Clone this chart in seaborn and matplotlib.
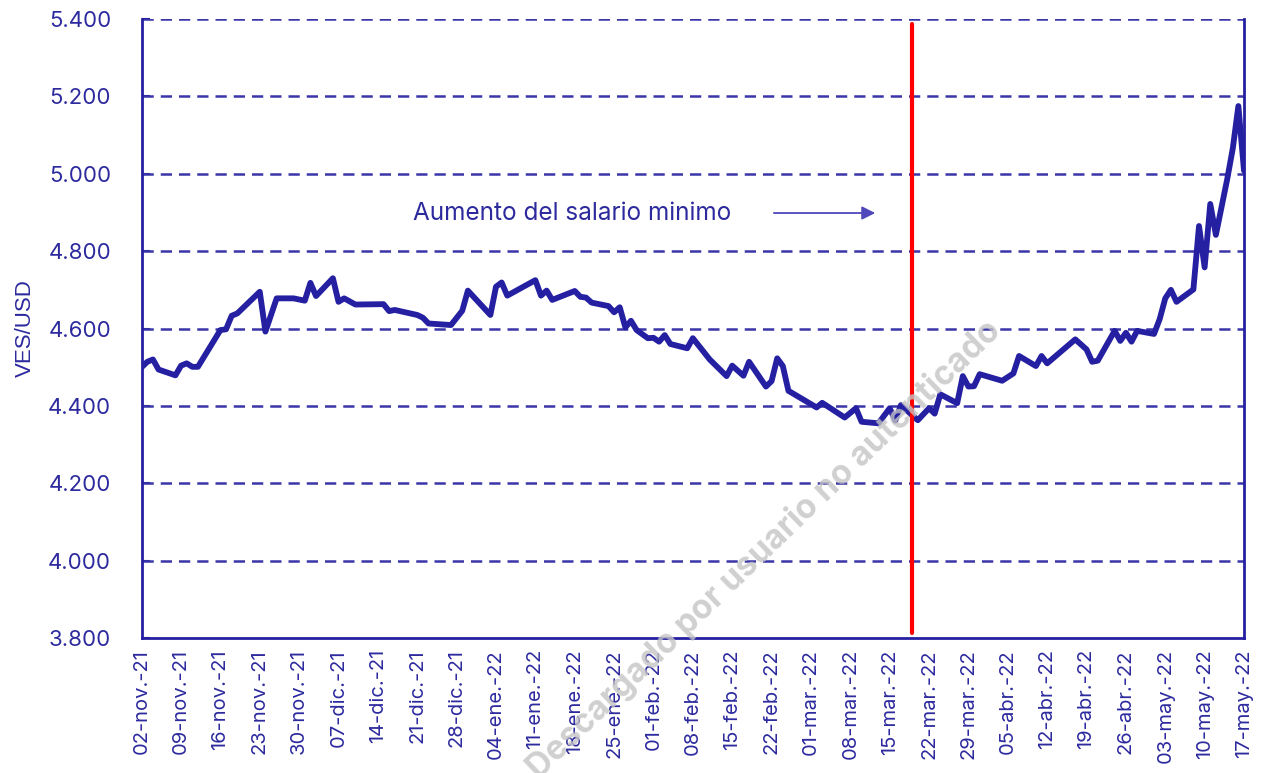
import matplotlib
matplotlib.use("Agg")
import matplotlib.pyplot as plt
import pandas as pd
import seaborn as sns

# tipo de cambio oficial VES/USD
fechas = [
    "2021-11-02", "2021-11-03", "2021-11-04", "2021-11-05", "2021-11-08",
    "2021-11-09", "2021-11-10", "2021-11-11", "2021-11-12", "2021-11-16",
    "2021-11-17", "2021-11-18", "2021-11-19", "2021-11-23", "2021-11-24",
    "2021-11-26", "2021-11-29", "2021-12-01", "2021-12-02", "2021-12-03",
    "2021-12-06", "2021-12-07", "2021-12-08", "2021-12-10", "2021-12-15",
    "2021-12-16", "2021-12-17", "2021-12-21", "2021-12-22", "2021-12-23",
    "2021-12-27", "2021-12-29", "2021-12-30", "2022-01-03", "2022-01-04",
    "2022-01-05", "2022-01-06", "2022-01-11", "2022-01-12", "2022-01-13",
    "2022-01-14", "2022-01-18", "2022-01-19", "2022-01-20", "2022-01-21",
    "2022-01-24", "2022-01-25", "2022-01-26", "2022-01-27", "2022-01-28",
    "2022-01-29", "2022-01-31", "2022-02-01", "2022-02-02", "2022-02-03",
    "2022-02-04", "2022-02-07", "2022-02-08", "2022-02-11", "2022-02-14",
    "2022-02-15", "2022-02-17", "2022-02-18", "2022-02-21", "2022-02-22",
    "2022-02-23", "2022-02-24", "2022-02-25", "2022-03-02", "2022-03-03",
    "2022-03-07", "2022-03-09", "2022-03-10", "2022-03-13", "2022-03-15",
    "2022-03-16", "2022-03-17", "2022-03-18", "2022-03-20", "2022-03-22",
    "2022-03-23", "2022-03-24", "2022-03-27", "2022-03-28", "2022-03-29",
    "2022-03-30", "2022-03-31", "2022-04-04", "2022-04-06", "2022-04-07",
    "2022-04-10", "2022-04-11", "2022-04-12", "2022-04-17", "2022-04-19",
    "2022-04-20", "2022-04-21", "2022-04-24", "2022-04-25", "2022-04-26",
    "2022-04-27", "2022-04-28", "2022-05-01", "2022-05-02", "2022-05-03",
    "2022-05-04", "2022-05-05", "2022-05-08", "2022-05-09", "2022-05-10",
    "2022-05-11", "2022-05-12", "2022-05-14", "2022-05-15", "2022-05-16",
    "2022-05-17",
]
ves_usd = [
    4500, 4514, 4520, 4494, 4479,
    4504, 4510, 4501, 4501, 4596,
    4598, 4633, 4639, 4695, 4592,
    4678, 4678, 4672, 4718, 4684,
    4730, 4669, 4678, 4662, 4663,
    4645, 4648, 4635, 4628, 4613,
    4609, 4646, 4698, 4635, 4708,
    4719, 4685, 4725, 4685, 4698,
    4674, 4697, 4682, 4680, 4667,
    4658, 4642, 4655, 4603, 4620,
    4596, 4575, 4576, 4566, 4583,
    4560, 4549, 4575, 4520, 4477,
    4504, 4478, 4514, 4450, 4464,
    4523, 4503, 4439, 4396, 4408,
    4370, 4394, 4359, 4355, 4394,
    4362, 4402, 4389, 4363, 4394,
    4380, 4430, 4407, 4477, 4450,
    4451, 4482, 4465, 4484, 4529,
    4503, 4529, 4510, 4572, 4546,
    4514, 4517, 4594, 4568, 4589,
    4566, 4594, 4586, 4624, 4678,
    4700, 4669, 4701, 4865, 4758,
    4922, 4842, 4985, 5065, 5175,
    5008,
]

etiquetas_x = [
    "02-nov.-21", "09-nov.-21", "16-nov.-21", "23-nov.-21", "30-nov.-21",
    "07-dic.-21", "14-dic.-21", "21-dic.-21", "28-dic.-21", "04-ene.-22",
    "11-ene.-22", "18-ene.-22", "25-ene.-22", "01-feb.-22", "08-feb.-22",
    "15-feb.-22", "22-feb.-22", "01-mar.-22", "08-mar.-22", "15-mar.-22",
    "22-mar.-22", "29-mar.-22", "05-abr.-22", "12-abr.-22", "19-abr.-22",
    "26-abr.-22", "03-may.-22", "10-may.-22", "17-may.-22",
]
ticks_y = [3800, 4000, 4200, 4400, 4600, 4800, 5000, 5200, 5400]
fecha_salario = "2022-03-19"

AZUL = "#2520a2"
AZUL_TXT = "#2d2a9e"

df = pd.DataFrame({"fecha": pd.to_datetime(fechas), "ves_usd": ves_usd})
ticks_x = pd.date_range("2021-11-02", "2022-05-17", freq="7D")

sns.set_style("white")
plt.rcParams["font.family"] = ["Inter", "DejaVu Sans"]

fig = plt.figure(figsize=(12.65, 7.73), dpi=100)
ax = fig.add_axes([0.1120, 0.1746, 0.8714, 0.8008])

for v in ticks_y[1:]:
    ax.axhline(v, color="#3a35a8", lw=1.8, ls=(0, (4.5, 2.8)), zorder=1)

sns.lineplot(data=df, x="fecha", y="ves_usd", ax=ax, color=AZUL, lw=4.2,
             zorder=3)

ax.axvline(pd.Timestamp(fecha_salario), ymin=0.008, ymax=0.992,
           color="#ff0000", lw=3, zorder=4)

ax.text(0.2457, 0.6866, "Aumento del salario minimo", transform=ax.transAxes,
        fontsize=17.5, color=AZUL_TXT, ha="left", va="center")
ax.annotate("", xy=(0.668, 0.6866), xytext=(0.571, 0.6866),
            xycoords="axes fraction",
            arrowprops=dict(arrowstyle="-|>", color="#4f48bb", lw=1.3,
                            mutation_scale=20))

ax.set_xlim(pd.Timestamp("2021-11-02"), pd.Timestamp("2022-05-17"))
ax.set_ylim(3800, 5400)
ax.set_xticks(ticks_x)
ax.set_xticklabels(etiquetas_x, rotation=90, fontsize=14.5, color=AZUL_TXT)
ax.set_yticks(ticks_y)
ax.set_yticklabels([f"{v:,.0f}".replace(",", ".") for v in ticks_y],
                   fontsize=16, color=AZUL_TXT)
ax.tick_params(axis="y", direction="in", length=6, width=1.5, color=AZUL,
               pad=22, left=True)
ax.tick_params(axis="x", length=0, pad=8)

ax.set_xlabel("")
ax.set_ylabel("VES/USD", fontsize=16, color=AZUL_TXT,
              family=["Liberation Sans", "DejaVu Sans"])
ax.yaxis.set_label_coords(-0.096, 0.5)

for lado in ["left", "right", "bottom"]:
    ax.spines[lado].set_color(AZUL)
    ax.spines[lado].set_linewidth(2)
ax.spines["top"].set_visible(False)

fig.text(0.604, 0.289, "Descargado por usuario no autenticado",
         fontsize=24, fontweight="bold", color="#c4c4c4", alpha=0.8,
         rotation=44, rotation_mode="anchor", ha="center", va="center",
         zorder=0)

fig.savefig("out.png", dpi=100)
